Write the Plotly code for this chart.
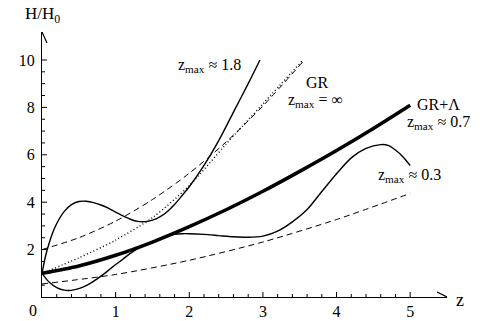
"""
H/H0 against z for several models
"""

import plotly.graph_objects as go

# GR + Lambda (thick)
z_lcdm = [0, 0.5, 1, 1.5, 2, 2.5, 3, 3.5, 4, 4.5, 5]
h_lcdm = [1.0, 1.31, 1.76, 2.32, 2.97, 3.68, 4.46, 5.30, 6.18, 7.11, 8.09]

# GR, z_max = inf (dotted)
z_gr = [0, 0.5, 1, 1.5, 2, 2.5, 3, 3.54]
h_gr = [1.0, 1.65, 2.4, 3.35, 4.7, 6.45, 8.15, 9.98]

# upper dashed
z_up = [0, 0.5, 1, 1.5, 2, 2.5, 3, 3.55]
h_up = [2.0, 2.5, 3.2, 4.11, 5.22, 6.54, 8.06, 9.95]

# lower dashed
z_lo = [0, 1, 2, 3, 4, 5]
h_lo = [0.55, 0.95, 1.55, 2.32, 3.27, 4.37]

# z_max ~ 1.8
z_a = [0, 0.05, 0.1, 0.15, 0.2, 0.3, 0.4, 0.5, 0.6, 0.7, 0.8, 0.9, 1.0,
       1.1, 1.2, 1.3, 1.4, 1.5, 1.6, 1.7, 1.8, 1.9, 2.0, 2.2, 2.4, 2.6,
       2.8, 2.96]
h_a = [1.0, 1.75, 2.3, 2.75, 3.1, 3.6, 3.9, 4.03, 4.04, 3.98, 3.88, 3.75,
       3.58, 3.42, 3.28, 3.19, 3.18, 3.24, 3.38, 3.6, 3.9, 4.27, 4.65,
       5.55, 6.6, 7.8, 9.0, 10.0]

# z_max ~ 0.3
z_b = [0, 0.1, 0.2, 0.3, 0.4, 0.5, 0.6, 0.7, 0.8, 0.9, 1.0, 1.1, 1.2,
       1.3, 1.4, 1.5, 1.6, 1.7, 1.8, 1.9, 2.0, 2.2, 2.4, 2.6, 2.8, 3.0,
       3.2, 3.4, 3.6, 3.8, 4.0, 4.2, 4.4, 4.6, 4.7, 4.8, 4.9, 5.0]
h_b = [1.0, 0.62, 0.4, 0.29, 0.28, 0.35, 0.48, 0.66, 0.88, 1.12, 1.37,
       1.6, 1.84, 2.04, 2.2, 2.33, 2.46, 2.57, 2.64, 2.67, 2.67, 2.64,
       2.59, 2.54, 2.52, 2.57, 2.78, 3.17, 3.69, 4.45, 5.2, 5.87, 6.27,
       6.43, 6.4, 6.2, 5.92, 5.55]

# tick positions
x_ticks = [1, 2, 3, 4, 5]
x_minor = [0.2, 0.4, 0.6, 0.8, 1.2, 1.4, 1.6, 1.8, 2.2, 2.4, 2.6, 2.8,
           3.2, 3.4, 3.6, 3.8, 4.2, 4.4, 4.6, 4.8]
y_ticks = [2, 4, 6, 8, 10]
y_minor = [0.5, 1, 1.5, 2.5, 3, 3.5, 4.5, 5, 5.5, 6.5, 7, 7.5, 8.5, 9, 9.5]

serif = "Liberation Serif"

fig = go.Figure()

def add(x, y, width, dash="solid"):
    fig.add_trace(go.Scatter(x=x, y=y, mode="lines",
                             line=dict(color="black", width=width, dash=dash,
                                       shape="spline", smoothing=0.8),
                             showlegend=False, hoverinfo="skip"))

add(z_lo, h_lo, 1, "6px,4px")
add(z_up, h_up, 1, "6px,4px")
add(z_gr, h_gr, 1.4, "1px,2.5px")
add(z_a, h_a, 1.4)
add(z_b, h_b, 1.4)
add(z_lcdm, h_lcdm, 3.5)

#> axes (labels only, tick marks drawn below)
fig.update_xaxes(range=[0, 5.5], showline=True, linecolor="black", linewidth=1.2,
                 showgrid=False, zeroline=False, automargin=False,
                 tickmode="array", tickvals=x_ticks, ticks="", ticklabelstandoff=0)
fig.update_yaxes(range=[0, 11.18], showline=True, linecolor="black", linewidth=1.2,
                 showgrid=False, zeroline=False, automargin=False,
                 tickmode="array", tickvals=y_ticks, ticks="", ticklabelstandoff=3)

tick_line = dict(color="black", width=1)
for v in x_ticks + x_minor:
    fig.add_shape(type="line", xref="x", yref="y", ysizemode="pixel", yanchor=0,
                  x0=v, x1=v, y0=0, y1=5 if v in x_ticks else 3, line=tick_line)
for v in y_ticks + y_minor:
    fig.add_shape(type="line", xref="x", yref="y", xsizemode="pixel", xanchor=0,
                  y0=v, y1=v, x0=0, x1=5 if v in y_ticks else 3, line=tick_line)

#> arrow heads
fig.add_shape(type="path", xref="x", yref="y", xsizemode="pixel", ysizemode="pixel",
              xanchor=5.5, yanchor=0, path="M-10,5 L0,0 L-10,-5",
              line=dict(color="black", width=1.2))
fig.add_shape(type="path", xref="x", yref="y", xsizemode="pixel", ysizemode="pixel",
              xanchor=0, yanchor=11.18, path="M-5,-11 L0,0 L5,-11",
              line=dict(color="black", width=1.2))

#> labels
notes = [
    ("z<sub>max</sub> ≈ 1.8", 2.28, 9.77),
    ("GR", 3.74, 9.05),
    ("z<sub>max</sub> = ∞", 3.72, 8.29),
    ("GR+Λ", 5.38, 8.12),
    ("z<sub>max</sub> ≈ 0.7", 5.38, 7.36),
    ("z<sub>max</sub> ≈ 0.3", 4.99, 5.13),
]
for txt, x, y in notes:
    fig.add_annotation(text=txt, x=x, y=y, xref="x", yref="y", showarrow=False,
                       xanchor="center", yanchor="middle",
                       font=dict(family=serif, size=16, color="black"))

# axis names and origin label, placed in paper units
for txt, x, y, size in [("H/H<sub>0</sub>", 0, 1.064, 17),
                        ("z", 1.032, -0.01, 18),
                        ("0", -0.022, -0.051, 16)]:
    fig.add_annotation(text=txt, x=x, y=y, xref="paper", yref="paper",
                       showarrow=False, xanchor="center", yanchor="middle",
                       font=dict(family=serif, size=size, color="black"))

fig.update_layout(width=493, height=321, margin=dict(l=42, r=46, t=32, b=24),
                  plot_bgcolor="white", paper_bgcolor="white",
                  font=dict(family=serif, size=16, color="black"))

# page body has a default margin; drop it so the figure fills the window
fig.write_html("out.html", config={"displayModeBar": False},
               post_script="document.body.style.margin='0';"
                           "document.body.style.overflow='hidden';")
